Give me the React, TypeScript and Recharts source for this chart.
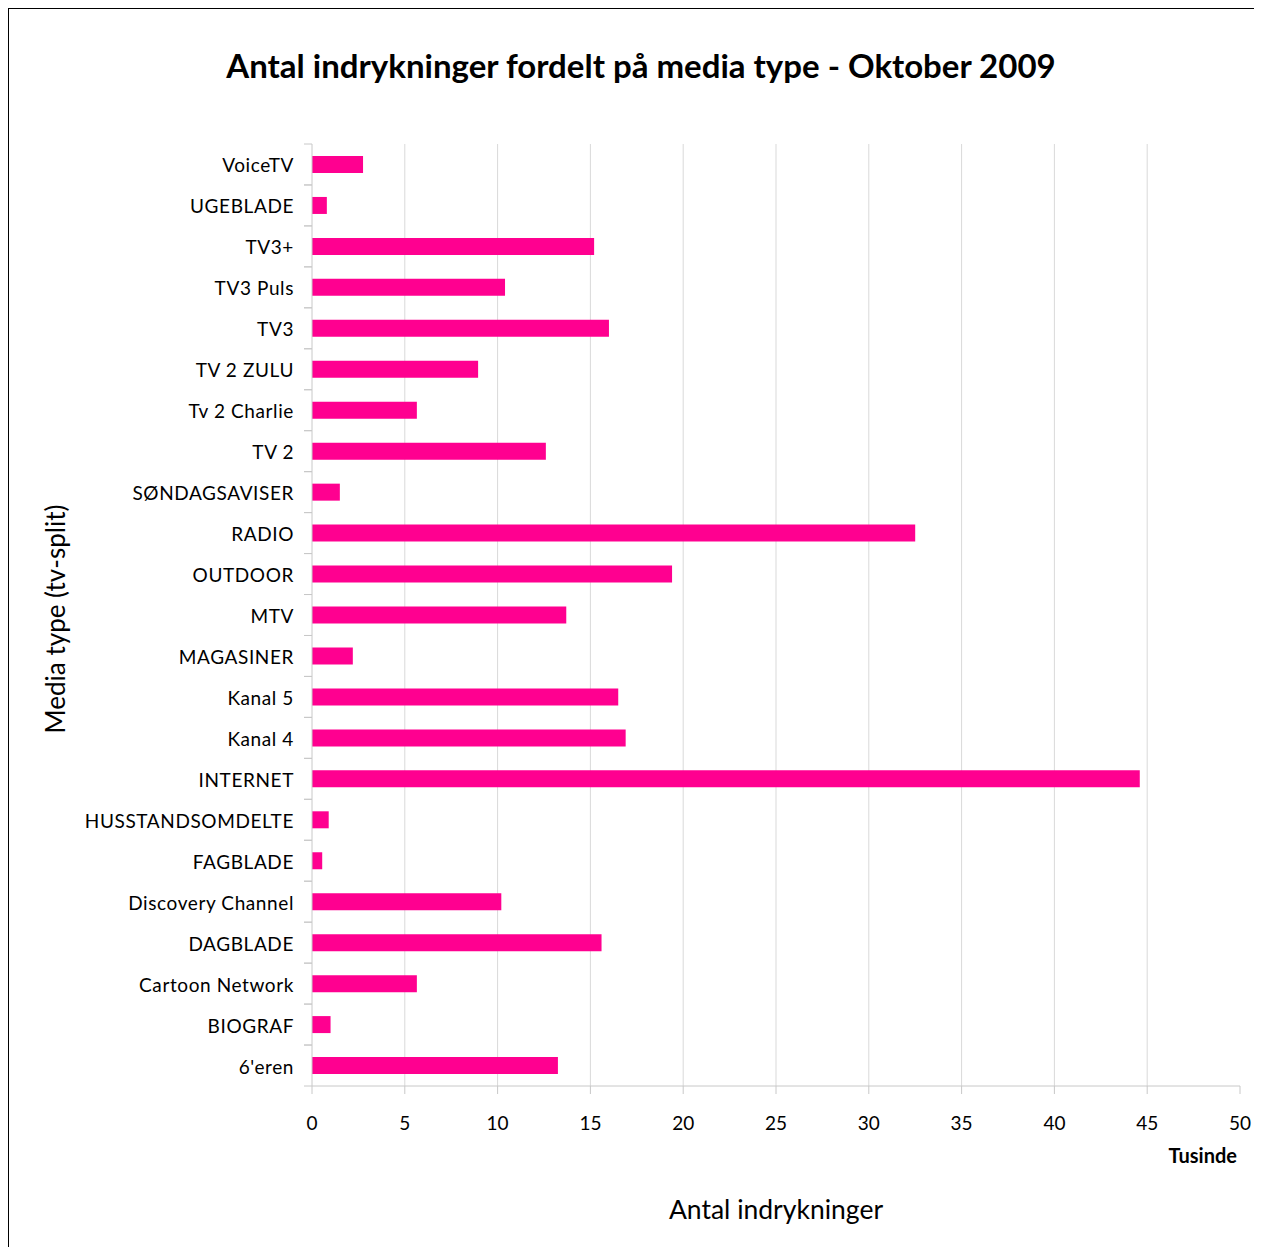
import {
  BarChart,
  Bar,
  XAxis,
  YAxis,
  CartesianGrid,
} from "recharts";

const categories = [
  "VoiceTV",
  "UGEBLADE",
  "TV3+",
  "TV3 Puls",
  "TV3",
  "TV 2 ZULU",
  "Tv 2 Charlie",
  "TV 2",
  "SØNDAGSAVISER",
  "RADIO",
  "OUTDOOR",
  "MTV",
  "MAGASINER",
  "Kanal 5",
  "Kanal 4",
  "INTERNET",
  "HUSSTANDSOMDELTE",
  "FAGBLADE",
  "Discovery Channel",
  "DAGBLADE",
  "Cartoon Network",
  "BIOGRAF",
  "6'eren",
];

// thousands
const values = [
  2.75, 0.8, 15.2, 10.4, 16.0, 8.95, 5.65, 12.6, 1.5, 32.5, 19.4, 13.7, 2.2,
  16.5, 16.9, 44.6, 0.9, 0.55, 10.2, 15.6, 5.65, 1.0, 13.25,
];

const xTicks = [0, 5, 10, 15, 20, 25, 30, 35, 40, 45, 50];
const gridTicks = [5, 10, 15, 20, 25, 30, 35, 40, 45];

const title = "Antal indrykninger fordelt på media type - Oktober 2009";
const xTitle = "Antal indrykninger";
const yTitle = "Media type (tv-split)";
const unitLabel = "Tusinde";

const FONT = "Lato, 'Open Sans', sans-serif";
const AXIS_X = 303;
const PLOT_TOP = 135;
const PLOT_H = 942;
const BAND = PLOT_H / categories.length;
const GREY = "#c8c8c8";
const X_MAX = 50;

if (typeof document !== "undefined") {
  document.documentElement.style.overflow = "hidden";
  document.body.style.overflow = "hidden";
}

const CategoryTick = (props: any) => {
  const { y, payload } = props;
  return (
    <g>
      <line x1={AXIS_X - 8} x2={AXIS_X} y1={y - BAND / 2} y2={y - BAND / 2} stroke={GREY} />
      <line x1={AXIS_X - 8} x2={AXIS_X} y1={y + BAND / 2} y2={y + BAND / 2} stroke={GREY} />
      <text
        x={AXIS_X - 18}
        y={y + 8}
        textAnchor="end"
        fontSize={19}
        letterSpacing={0.6}
        fontFamily={FONT}
        fill="#000"
      >
        {payload.value}
      </text>
    </g>
  );
};

const App = () => {
  const data = categories.map((name, i) => ({ name, value: values[i] }));
  return (
    <div
      style={{
        position: "relative",
        width: 1300,
        height: 1300,
        border: "1px solid #000",
        background: "#fff",
        fontFamily: FONT,
      }}
    >
      <div
        style={{
          position: "absolute",
          left: 0,
          width: 1264,
          top: 36,
          textAlign: "center",
          fontSize: 33,
          fontWeight: "bold",
        }}
      >
        {title}
      </div>
      <BarChart
        width={1300}
        height={1300}
        data={data}
        layout="vertical"
        margin={{ top: PLOT_TOP, right: 69, bottom: 1300 - PLOT_TOP - PLOT_H - 50, left: 0 }}
        barSize={17}
      >
        <CartesianGrid
          horizontal={false}
          stroke="#d9d9d9"
          verticalCoordinatesGenerator={({ offset }: any) =>
            gridTicks.map((t) => offset.left + (t / X_MAX) * offset.width)
          }
        />
        <XAxis
          type="number"
          domain={[0, X_MAX]}
          ticks={xTicks}
          interval={0}
          height={50}
          stroke={GREY}
          tickSize={8}
          tickMargin={23}
          tick={{ fill: "#000", fontSize: 19, fontFamily: FONT }}
        />
        <YAxis
          type="category"
          dataKey="name"
          width={AXIS_X}
          stroke={GREY}
          tickLine={false}
          interval={0}
          tick={<CategoryTick />}
        />
        <Bar dataKey="value" fill="#ff0090" isAnimationActive={false} />
      </BarChart>
      <div
        style={{
          position: "absolute",
          right: 1300 - 1228,
          top: 1134,
          fontSize: 20,
          fontWeight: "bold",
        }}
      >
        {unitLabel}
      </div>
      <div
        style={{
          position: "absolute",
          left: AXIS_X,
          width: 928,
          top: 1184,
          textAlign: "center",
          fontSize: 26.5,
        }}
      >
        {xTitle}
      </div>
      <div
        style={{
          position: "absolute",
          left: 46 - 200,
          top: 611 - 17,
          width: 400,
          textAlign: "center",
          fontSize: 26,
          transform: "rotate(-90deg)",
        }}
      >
        {yTitle}
      </div>
    </div>
  );
};

export default App;
